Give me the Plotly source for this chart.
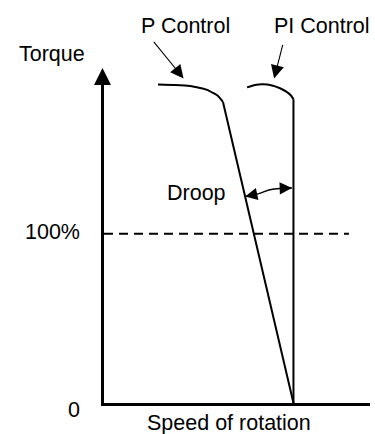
import plotly.graph_objects as go

# Speed in % of synchronous speed, torque in % of rated torque
p_speed = [28.5, 37.5, 45.4, 50.7, 54.4, 57.5, 60.2, 62.8, 100.0]
p_torque = [188.2, 187.9, 187.3, 186.1, 185.0, 183.2, 181.4, 177.9, 0.0]

pi_speed = [75.5, 79.7, 83.9, 88.7, 92.9, 96.0, 98.7, 100.0, 100.0]
pi_torque = [186.5, 187.9, 188.3, 187.6, 186.0, 184.1, 181.7, 179.5, 0.0]

rated_speed = [0.0, 129.3]
rated_torque = [100.0, 100.0]

droop_speed = [74.5, 81.3, 87.6, 93.4, 99.2]
droop_torque = [122.0, 123.6, 126.0, 126.8, 127.0]

tick_vals = [0, 100]
tick_text = ["0", "100%"]

speed_range = [0, 140.4]
torque_range = [0, 194.4]

W, H = 375, 434
M = dict(l=104, r=5, t=74, b=31)
PW = W - M["l"] - M["r"]
PH = H - M["t"] - M["b"]
FONT = dict(family="Liberation Sans, Arial, sans-serif", size=21.5, color="black")


def at(px, py):
    """Canvas pixel -> paper fraction."""
    return (px - M["l"]) / PW, (H - M["b"] - py) / PH


fig = go.Figure()

line_style = dict(color="black", width=2)
for xs, ys in ((p_speed, p_torque), (pi_speed, pi_torque)):
    # rounded top of the characteristic, then the straight drop to zero torque
    fig.add_trace(go.Scatter(x=xs[:-1], y=ys[:-1], mode="lines",
                             line=dict(shape="spline", smoothing=0.5, **line_style)))
    fig.add_trace(go.Scatter(x=xs[-2:], y=ys[-2:], mode="lines",
                             line=dict(shape="linear", **line_style)))
fig.add_trace(go.Scatter(x=rated_speed, y=rated_torque, mode="lines",
                         line=dict(color="black", width=1.8, dash="9px,6px")))
fig.add_trace(go.Scatter(x=droop_speed, y=droop_torque, mode="lines",
                         line=dict(color="black", width=1.4, shape="spline")))

ann = []

# torque axis arrowhead
x0, y1 = at(102.5, 68)
ann.append(dict(xref="paper", yref="paper", x=x0, y=y1, ax=0, ay=16,
                showarrow=True, arrowhead=2, arrowwidth=3, arrowsize=1.13,
                arrowcolor="black", text=""))

# droop double arrow heads
for tip, tail in ((0, 1), (-1, -2)):
    ann.append(dict(xref="x", yref="y", axref="x", ayref="y",
                    x=droop_speed[tip], y=droop_torque[tip],
                    ax=droop_speed[tail], ay=droop_torque[tail],
                    showarrow=True, arrowhead=2, arrowwidth=1.4, arrowsize=1.75,
                    arrowcolor="black", text=""))

# pointers from the control-mode labels to their curves
ann.append(dict(xref="x", yref="y", x=42.0, y=191.8, ax=-31, ay=-38,
                showarrow=True, arrowhead=2, arrowwidth=1.1, arrowsize=2.4,
                arrowcolor="black", text=""))
ann.append(dict(xref="x", yref="y", x=89.8, y=191.8, ax=9, ay=-35,
                showarrow=True, arrowhead=2, arrowwidth=1.1, arrowsize=2.4,
                arrowcolor="black", text=""))

# text labels
for label, px, py in (("Torque", 51.5, 53.7),
                      ("P Control", 185, 25.8),
                      ("PI Control", 321.5, 25.8),
                      ("Droop", 196, 192.5),
                      ("Speed of rotation", 228.5, 422.5)):
    x, y = at(px, py)
    ann.append(dict(xref="paper", yref="paper", x=x, y=y, text=label,
                    showarrow=False, xanchor="center", yanchor="middle", font=FONT))

# torque tick labels
tick_x, _ = at(82, 0)
for v, t, shift in zip(tick_vals, tick_text, (-6.5, 1.5)):
    ann.append(dict(xref="paper", yref="y", x=tick_x, y=v, yshift=shift, text=t,
                    showarrow=False, xanchor="right", yanchor="middle", font=FONT))

fig.update_layout(
    width=W, height=H, margin=M,
    paper_bgcolor="white", plot_bgcolor="white",
    showlegend=False, annotations=ann,
    xaxis=dict(range=speed_range, showline=True, linewidth=3, linecolor="black",
               showgrid=False, zeroline=False, showticklabels=False, ticks=""),
    yaxis=dict(range=torque_range, showline=True, linewidth=3, linecolor="black",
               showgrid=False, zeroline=False, showticklabels=False, ticks=""),
)

fig.write_html("out.html")
